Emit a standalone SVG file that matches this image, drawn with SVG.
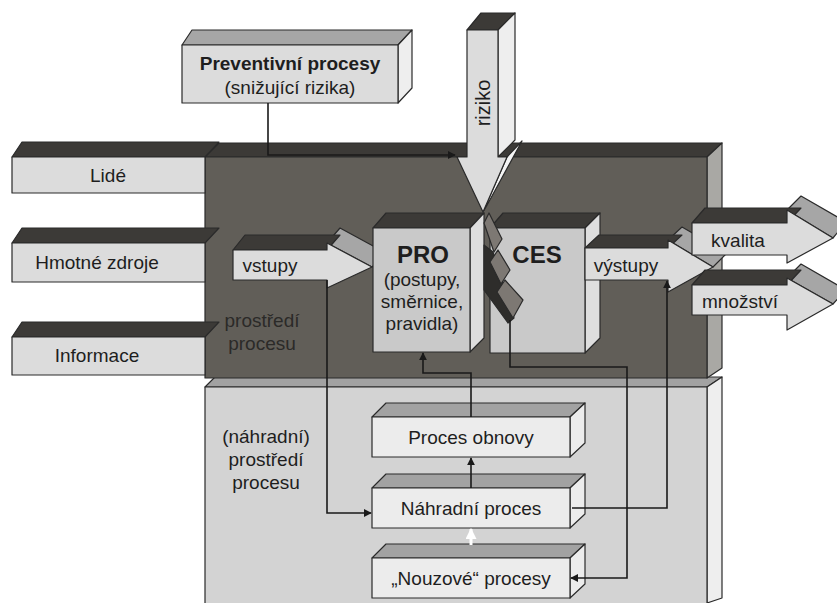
<svg xmlns="http://www.w3.org/2000/svg" width="837" height="603" viewBox="0 0 837 603">
<defs>
<style>
.o{stroke:#2a2a2a;stroke-width:1.2;stroke-linejoin:round}
.dk{fill:#3c3a37}
.env{fill:#615e58}
.envs{fill:#a9a8a4}
.lt{fill:#dcdcdc}
.ltr{fill:#eeeeee}
.mid{fill:#a6a6a6}
.pc{fill:#c9c9c9}
.pcr{fill:#dedede}
.low{fill:#d3d3d3}
.lowt{fill:#a2a2a2}
.sb{fill:#ececec}
.t{font-family:"Liberation Sans",Arial,sans-serif;font-size:19px;fill:#1e1e1e;text-anchor:middle}
.b{font-weight:bold}
.w{fill:#2b2a28}
.c{fill:none;stroke:#1a1a1a;stroke-width:1.6}
</style>
<marker id="ah" viewBox="0 0 10 10" refX="9" refY="5" markerWidth="8" markerHeight="8" orient="auto" markerUnits="userSpaceOnUse">
<path d="M0,0 L10,5 L0,10 z" fill="#1a1a1a"/>
</marker>
<marker id="ahw" viewBox="0 0 10 10" refX="9" refY="5" markerWidth="11" markerHeight="11" orient="auto" markerUnits="userSpaceOnUse">
<path d="M0,0 L10,5 L0,10 z" fill="#ffffff"/>
</marker>
</defs>
<rect width="837" height="603" fill="#ffffff"/>

<g id="env-lower">
<polygon class="o lowt" points="205,387 215,377 722,377 707,387"/>
<polygon class="o ltr" points="707,387 722,377 722,598 707,603"/>
<rect class="o low" x="205" y="387" width="502" height="220"/>
<text class="t" x="266" y="443">(náhradní)</text>
<text class="t" x="266" y="466">prostředí</text>
<text class="t" x="266" y="489">procesu</text>
</g>

<g id="env-main">
<polygon class="o dk" points="205,157 219,143 722,143 707,157"/>
<polygon class="o envs" points="707,157 722,143 722,368 707,378"/>
<rect class="o env" x="205" y="157" width="502" height="221"/>
<text class="t w" x="262" y="327">prostředí</text>
<text class="t w" x="262" y="350">procesu</text>
</g>

<g id="lide">
<polygon class="o dk" points="12,157 22,142 219,142 205,157"/>
<rect class="o lt" x="12" y="157" width="193" height="36"/>
<text class="t" x="108" y="182">Lidé</text>
</g>
<g id="hmotne">
<polygon class="o dk" points="12,243 22,228 219,228 205,243"/>
<rect class="o lt" x="12" y="243" width="193" height="39"/>
<text class="t" x="97" y="269">Hmotné zdroje</text>
</g>
<g id="informace">
<polygon class="o dk" points="12,337 22,322 219,322 205,337"/>
<rect class="o lt" x="12" y="337" width="193" height="38"/>
<text class="t" x="97" y="362">Informace</text>
</g>

<g id="preventivni">
<polygon class="o mid" points="182,45 192,30 412,30 398,45"/>
<polygon class="o ltr" points="398,45 412,30 412,88 398,103"/>
<rect class="o lt" x="182" y="45" width="216" height="58"/>
<text class="t b" x="290" y="70">Preventivní procesy</text>
<text class="t" x="290" y="94">(snižující rizika)</text>
</g>

<g id="vstupy">
<polygon class="o mid" points="327,243 340,228 386,253 372,267"/>
<polygon class="o dk" points="233,250 245,235 340,235 327,250"/>
<polygon class="o lt" points="233,250 327,250 327,243 372,267 327,288 327,280 233,280"/>
<text class="t" x="270" y="272">vstupy</text>
</g>

<g id="ces">
<polygon class="o dk" points="490,228 503,213 600,213 585,228"/>
<polygon class="o pcr" points="585,228 600,213 600,338 585,353"/>
<rect class="o pc" x="490" y="228" width="95" height="125"/>
<text class="t b" x="537" y="263" style="font-size:24px">CES</text>
</g>

<g id="pro">
<polygon class="o dk" points="373,228 386,213 484,213 470,228"/>
<polygon class="o pcr" points="470,228 484,213 484,338 470,352"/>
<rect class="o pc" x="373" y="228" width="97" height="124"/>
<text class="t b" x="423" y="263" style="font-size:24px">PRO</text>
<text class="t" x="422" y="286">(postupy,</text>
<text class="t" x="422" y="308">směrnice,</text>
<text class="t" x="422" y="330">pravidla)</text>
</g>

<g id="crack">
<polygon class="o" fill="#2e2d2b" points="484,245 493,252 514,318 508,323 484,290"/>
<polygon class="o" fill="#7d7873" points="484,223 489,213 502,239 494,252"/>
<polygon class="o" fill="#7d7873" points="490,262 498,250 510,270 501,284"/>
<polygon class="o" fill="#7d7873" points="497,292 505,280 523,300 513,318"/>
</g>

<g id="vystupy">
<polygon class="o mid" points="668,240 682,227 727,253 713,267"/>
<polygon class="o dk" points="585,248 599,235 682,235 668,248"/>
<polygon class="o lt" points="585,248 668,248 668,240 713,267 668,292 668,280 585,280"/>
<text class="t" x="626" y="272">výstupy</text>
</g>

<g id="kvalita">
<polygon class="o mid" points="787,210 801,196 846,222 833,238"/>
<polygon class="o dk" points="692,223 705,208 801,208 787,223"/>
<polygon class="o lt" points="692,223 787,223 787,210 833,238 787,263 787,255 692,255"/>
<text class="t" x="738" y="247">kvalita</text>
</g>

<g id="mnozstvi">
<polygon class="o mid" points="787,278 801,264 846,290 833,304"/>
<polygon class="o dk" points="692,285 705,270 801,270 787,285"/>
<polygon class="o lt" points="692,285 787,285 787,278 833,304 787,330 787,315 692,315"/>
<text class="t" x="740" y="308">množství</text>
</g>

<g id="riziko">
<polygon class="o dk" points="467,30 481,13 515,13 498,30"/>
<polygon class="o ltr" points="498,30 515,13 515,140 498,157"/>
<polygon class="o" fill="#f4f4f4" points="507,157 522,141 486,207 483,212"/>
<polygon class="o lt" points="467,30 498,30 498,157 507,157 483,212 457,157 467,157"/>
<text class="t" transform="translate(490,103) rotate(-90)" style="font-size:20px">riziko</text>
</g>

<g id="obnova">
<polygon class="o lowt" points="372,417 386,403 585,403 570,417"/>
<polygon class="o sb" points="570,417 585,403 585,443 570,457"/>
<rect class="o sb" x="372" y="417" width="198" height="40"/>
<text class="t" x="471" y="444">Proces obnovy</text>
</g>
<g id="nahradni">
<polygon class="o lowt" points="372,488 386,474 585,474 570,488"/>
<polygon class="o sb" points="570,488 585,474 585,514 570,528"/>
<rect class="o sb" x="372" y="488" width="198" height="40"/>
<text class="t" x="471" y="515">Náhradní proces</text>
</g>
<g id="nouzove">
<polygon class="o lowt" points="372,558 386,544 585,544 570,558"/>
<polygon class="o sb" points="570,558 585,544 585,584 570,598"/>
<rect class="o sb" x="372" y="558" width="198" height="40"/>
<text class="t" x="471" y="585">„Nouzové“ procesy</text>
</g>

<g id="connectors">
<polyline class="c" points="268,103 268,155 455,155" marker-end="url(#ah)"/>
<polyline class="c" points="327,280 327,513 371,513" marker-end="url(#ah)"/>
<polyline class="c" points="471,417 471,373 423,373 423,353" marker-end="url(#ah)"/>
<line class="c" x1="471" y1="488" x2="471" y2="458" marker-end="url(#ah)"/>
<line x1="471" y1="545" x2="471" y2="529" stroke="#ffffff" stroke-width="3" marker-end="url(#ahw)"/>
<polyline class="c" points="510,320 510,367 627,367 627,578 571,578" marker-end="url(#ah)"/>
<polyline class="c" points="572,508 667,508 667,281" marker-end="url(#ah)"/>
</g>
</svg>
